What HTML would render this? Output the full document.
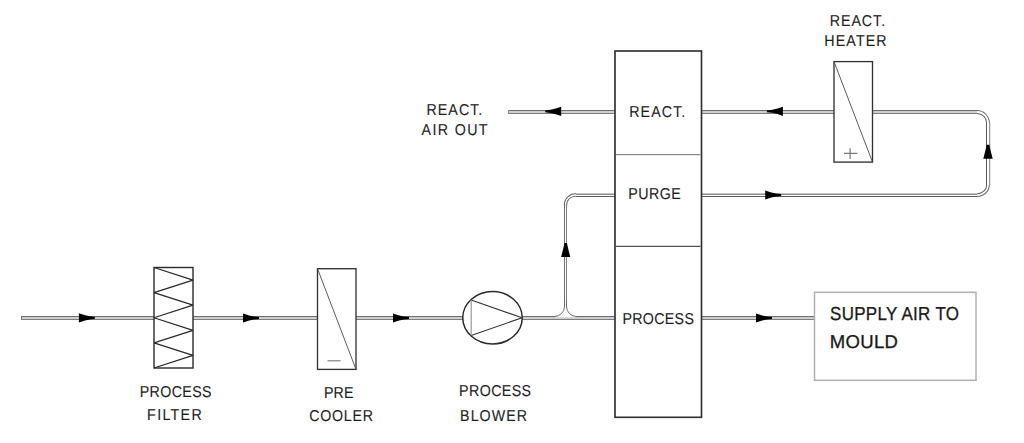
<!DOCTYPE html>
<html><head><meta charset="utf-8"><style>
html,body{margin:0;padding:0;background:#fff;width:1024px;height:443px;overflow:hidden}
svg{display:block}
text{font-family:"Liberation Sans",sans-serif;text-rendering:geometricPrecision}
</style></head><body>
<svg width="1024" height="443" viewBox="0 0 1024 443">
<rect x="22" y="316" width="132" height="4" fill="#cdcdcd"/><rect x="22" y="316" width="132" height="1" fill="#6e6e6e"/><rect x="22" y="319" width="132" height="1" fill="#7e7e7e"/>
<rect x="21" y="316" width="1" height="4" fill="#777"/>
<rect x="193" y="316" width="125" height="4" fill="#cdcdcd"/><rect x="193" y="316" width="125" height="1" fill="#6e6e6e"/><rect x="193" y="319" width="125" height="1" fill="#7e7e7e"/>
<rect x="356" y="316" width="107" height="4" fill="#cdcdcd"/><rect x="356" y="316" width="107" height="1" fill="#6e6e6e"/><rect x="356" y="319" width="107" height="1" fill="#7e7e7e"/>
<rect x="522" y="316" width="93" height="4" fill="#cdcdcd"/><rect x="522" y="316" width="93" height="1" fill="#6e6e6e"/><rect x="522" y="319" width="93" height="1" fill="#7e7e7e"/>
<rect x="701" y="316" width="114" height="4" fill="#cdcdcd"/><rect x="701" y="316" width="114" height="1" fill="#6e6e6e"/><rect x="701" y="319" width="114" height="1" fill="#7e7e7e"/>
<rect x="509" y="110" width="106" height="4" fill="#cdcdcd"/><rect x="509" y="110" width="106" height="1" fill="#6e6e6e"/><rect x="509" y="113" width="106" height="1" fill="#7e7e7e"/>
<rect x="508" y="110" width="1" height="4" fill="#888"/>
<rect x="701" y="110" width="133" height="4" fill="#cdcdcd"/><rect x="701" y="110" width="133" height="1" fill="#6e6e6e"/><rect x="701" y="113" width="133" height="1" fill="#7e7e7e"/>
<rect x="872" y="110" width="106" height="4" fill="#cdcdcd"/><rect x="872" y="110" width="106" height="1" fill="#6e6e6e"/><rect x="872" y="113" width="106" height="1" fill="#7e7e7e"/>
<path d="M576,195 A10,10 0 0 0 565.5,205.5" fill="none" stroke="#6a6a6a" stroke-width="3.4"/>
<path d="M576,195 A10,10 0 0 0 565.5,205.5" fill="none" stroke="#fff" stroke-width="1.3"/>
<path d="M977,195 A11,10 0 0 0 988,185" fill="none" stroke="#666" stroke-width="3.6"/>
<path d="M977,195 A11,10 0 0 0 988,185" fill="none" stroke="#fff" stroke-width="1.6"/>
<path d="M988,123 A11,11 0 0 0 977,112" fill="none" stroke="#666" stroke-width="3.8"/>
<path d="M988,123 A11,11 0 0 0 977,112" fill="none" stroke="#fff" stroke-width="1.8"/>
<rect x="576" y="193" width="39" height="1" fill="#c4c4c4"/><rect x="576" y="194" width="39" height="1" fill="#8c8c8c"/><rect x="576" y="196" width="39" height="1" fill="#5e5e5e"/>
<rect x="701" y="193" width="276" height="1" fill="#c4c4c4"/><rect x="701" y="194" width="276" height="1" fill="#8c8c8c"/><rect x="701" y="196" width="276" height="1" fill="#5e5e5e"/>
<rect x="564" y="205" width="1" height="102" fill="#6e6e6e"/>
<rect x="566" y="205" width="1" height="102" fill="#7c7c7c"/>
<rect x="986" y="123" width="1" height="62" fill="#5a5a5a"/>
<rect x="989" y="123" width="1" height="62" fill="#9a9a9a"/>
<rect x="990" y="123" width="1" height="62" fill="#e2e2e2"/>
<path d="M565,300 L565,306 A10,10 0 0 1 555,316 L555,317.2 L576,317.2 L576,316 A10,10 0 0 1 566,306 L566,300 Z" fill="#fff"/>
<path d="M564.5,300 L564.5,306.5 A10,10 0 0 1 554.5,316.5 L552,316.5 M566.5,300 L566.5,306.5 A10,10 0 0 0 576.5,316.5 L579,316.5" fill="none" stroke="#6a6a6a" stroke-width="1"/>
<rect x="154" y="267.5" width="39" height="100.5" fill="#fff" stroke="#2a2a2a" stroke-width="1.4"/>
<path d="M154,267.5 L193,280.06 L154,292.62 L193,305.19 L154,317.75 L193,330.31 L154,342.88 L193,355.44 L154,368.00" fill="none" stroke="#2a2a2a" stroke-width="1.3" stroke-linejoin="bevel"/>
<rect x="317.5" y="268.7" width="38.5" height="100.7" fill="#fff" stroke="#333" stroke-width="1.35"/>
<path d="M317.5,268.7 L356,369.4" stroke="#4a4a4a" stroke-width="0.9"/>
<path d="M327.5,360.8 L340.5,360.8" stroke="#777" stroke-width="1.1"/>
<ellipse cx="492.5" cy="317.75" rx="29.75" ry="26.25" fill="#fff" stroke="#2a2a2a" stroke-width="1.5"/>
<path d="M471.2,300 L522,317.8 L471.2,335.4" fill="none" stroke="#333" stroke-width="1.1"/>
<path d="M471.2,300 L471.2,335.4" stroke="#999" stroke-width="1.2"/>
<rect x="615" y="51" width="86.5" height="366.3" fill="none" stroke="#303030" stroke-width="1.65"/>
<path d="M616,154.6 L700.5,154.6" stroke="#8a8a8a" stroke-width="1.2"/>
<path d="M616,246.4 L700.5,246.4" stroke="#555" stroke-width="1.2"/>
<rect x="834" y="61.6" width="38.5" height="100.5" fill="#fff" stroke="#333" stroke-width="1.35"/>
<path d="M834,61.6 L872.5,162.1" stroke="#4a4a4a" stroke-width="0.9"/>
<path d="M844,153.4 L857.4,153.4 M850.1,148.3 L850.1,159.1" stroke="#777" stroke-width="1.2"/>
<rect x="814.5" y="292.3" width="161.5" height="88" fill="#fff" stroke="#b0b0b0" stroke-width="1.5"/>
<path transform="translate(78.9,317.9) rotate(0)" d="M0,-4.6 L6.2,-2.55 L10.8,-1.55 L16,-0.9 L16,0.9 L10.8,1.55 L6.2,2.55 L0,4.6 Z" fill="#000"/>
<path transform="translate(243,318) rotate(0)" d="M0,-4.6 L6.2,-2.55 L10.8,-1.55 L16,-0.9 L16,0.9 L10.8,1.55 L6.2,2.55 L0,4.6 Z" fill="#000"/>
<path transform="translate(393,318) rotate(0)" d="M0,-4.6 L6.2,-2.55 L10.8,-1.55 L16,-0.9 L16,0.9 L10.8,1.55 L6.2,2.55 L0,4.6 Z" fill="#000"/>
<path transform="translate(756,318) rotate(0)" d="M0,-4.6 L6.2,-2.55 L10.8,-1.55 L16,-0.9 L16,0.9 L10.8,1.55 L6.2,2.55 L0,4.6 Z" fill="#000"/>
<path transform="translate(561.2,111.4) rotate(180)" d="M0,-4.6 L6.2,-2.55 L10.8,-1.55 L16,-0.9 L16,0.9 L10.8,1.55 L6.2,2.55 L0,4.6 Z" fill="#000"/>
<path transform="translate(782.9,111.3) rotate(180)" d="M0,-4.6 L6.2,-2.55 L10.8,-1.55 L16,-0.9 L16,0.9 L10.8,1.55 L6.2,2.55 L0,4.6 Z" fill="#000"/>
<path transform="translate(765.2,195) rotate(0)" d="M0,-4.6 L6.2,-2.55 L10.8,-1.55 L16,-0.9 L16,0.9 L10.8,1.55 L6.2,2.55 L0,4.6 Z" fill="#000"/>
<path transform="translate(565.7,257) rotate(-90)" d="M0,-4.6 L7,-2.8 L14,-1.2 L14,1.2 L7,2.8 L0,4.6 Z" fill="#000"/>
<path transform="translate(988,158.7) rotate(-90)" d="M0,-4.7 L7,-2.9 L14,-1.3 L14,1.3 L7,2.9 L0,4.7 Z" fill="#000"/>
<text transform="translate(629.22,117.00) scale(0.9000,1)" font-size="15.80" letter-spacing="1.230" fill="#1e1e1e" stroke="#1e1e1e" stroke-width="0.12">REACT.</text>
<text transform="translate(628.22,199.40) scale(0.9000,1)" font-size="15.80" letter-spacing="0.563" fill="#1e1e1e" stroke="#1e1e1e" stroke-width="0.12">PURGE</text>
<text transform="translate(622.42,323.60) scale(0.9000,1)" font-size="15.80" letter-spacing="0.355" fill="#1e1e1e" stroke="#1e1e1e" stroke-width="0.12">PROCESS</text>
<text transform="translate(139.72,396.60) scale(0.9000,1)" font-size="15.80" letter-spacing="0.429" fill="#1e1e1e" stroke="#1e1e1e" stroke-width="0.12">PROCESS</text>
<text transform="translate(147.12,419.80) scale(0.9000,1)" font-size="15.80" letter-spacing="1.473" fill="#1e1e1e" stroke="#1e1e1e" stroke-width="0.12">FILTER</text>
<text transform="translate(324.02,397.60) scale(0.9000,1)" font-size="15.80" letter-spacing="0.085" fill="#1e1e1e" stroke="#1e1e1e" stroke-width="0.12">PRE</text>
<text transform="translate(309.34,421.40) scale(0.9000,1)" font-size="15.80" letter-spacing="0.781" fill="#1e1e1e" stroke="#1e1e1e" stroke-width="0.12">COOLER</text>
<text transform="translate(459.12,396.40) scale(0.9000,1)" font-size="15.80" letter-spacing="0.448" fill="#1e1e1e" stroke="#1e1e1e" stroke-width="0.12">PROCESS</text>
<text transform="translate(460.12,420.70) scale(0.9000,1)" font-size="15.80" letter-spacing="1.173" fill="#1e1e1e" stroke="#1e1e1e" stroke-width="0.12">BLOWER</text>
<text transform="translate(426.52,114.70) scale(0.9000,1)" font-size="15.80" letter-spacing="1.164" fill="#1e1e1e" stroke="#1e1e1e" stroke-width="0.12">REACT.</text>
<text transform="translate(421.55,134.60) scale(0.9000,1)" font-size="15.80" letter-spacing="1.536" fill="#1e1e1e" stroke="#1e1e1e" stroke-width="0.12">AIR OUT</text>
<text transform="translate(829.72,25.90) scale(0.9000,1)" font-size="15.80" letter-spacing="1.075" fill="#1e1e1e" stroke="#1e1e1e" stroke-width="0.12">REACT.</text>
<text transform="translate(824.32,45.60) scale(0.9000,1)" font-size="15.80" letter-spacing="1.257" fill="#1e1e1e" stroke="#1e1e1e" stroke-width="0.12">HEATER</text>
<text transform="translate(829.99,319.80) scale(0.9000,1)" font-size="18.84" letter-spacing="0.376" fill="#1a1a1a" stroke="#1a1a1a" stroke-width="0.3">SUPPLY AIR TO</text>
<text transform="translate(829.87,347.60) scale(1.0000,1)" font-size="18.55" letter-spacing="0.286" fill="#1a1a1a" stroke="#1a1a1a" stroke-width="0.3">MOULD</text>
</svg></body></html>
